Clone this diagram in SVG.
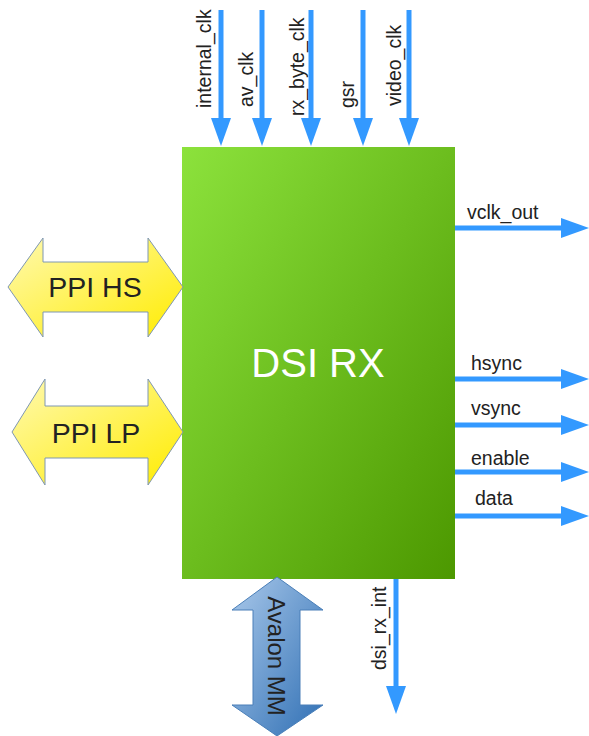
<svg xmlns="http://www.w3.org/2000/svg" width="589" height="736" viewBox="0 0 589 736">
<defs>
<linearGradient id="gGreen" x1="0" y1="0" x2="1" y2="1">
<stop offset="0" stop-color="#8ce23c"/>
<stop offset="1" stop-color="#4c9800"/>
</linearGradient>
<linearGradient id="gYellow" x1="0" y1="0" x2="1" y2="1">
<stop offset="0" stop-color="#fff9b0"/>
<stop offset="1" stop-color="#ffec00"/>
</linearGradient>
<linearGradient id="gBlue" x1="0" y1="0" x2="1" y2="1">
<stop offset="0" stop-color="#a9c8ea"/>
<stop offset="1" stop-color="#2f6fb4"/>
</linearGradient>
<marker id="ah" markerUnits="userSpaceOnUse" markerWidth="30" markerHeight="22" refX="0" refY="10" orient="auto" viewBox="0 0 30 20">
<path d="M0,0 L28,10 L0,20 Z" fill="#3399ff"/>
</marker>
</defs>
<style>
.sig{stroke:#3399ff;stroke-width:5;fill:none;marker-end:url(#ah)}
.lbl{font-family:"Liberation Sans",Arial,sans-serif;font-size:19.5px;fill:#222}
.big{font-family:"Liberation Sans",Arial,sans-serif;font-size:28.5px;fill:#222;text-anchor:middle}
</style>

<g id="connectors">
<line class="sig" x1="221" y1="10" x2="221" y2="118"/>
<line class="sig" x1="262" y1="10" x2="262" y2="118"/>
<line class="sig" x1="311" y1="10" x2="311" y2="118"/>
<line class="sig" x1="363" y1="10" x2="363" y2="118"/>
<line class="sig" x1="409" y1="10" x2="409" y2="118"/>
<line class="sig" x1="455" y1="228" x2="561" y2="228"/>
<line class="sig" x1="455" y1="379" x2="561" y2="379"/>
<line class="sig" x1="455" y1="425" x2="561" y2="425"/>
<line class="sig" x1="455" y1="472" x2="561" y2="472"/>
<line class="sig" x1="455" y1="516" x2="561" y2="516"/>
<line class="sig" x1="396" y1="579" x2="396" y2="686"/>
</g>

<g id="labels">
<text class="lbl" transform="translate(211,108) rotate(-90)">internal_clk</text>
<text class="lbl" transform="translate(253,107) rotate(-90)">av_clk</text>
<text class="lbl" transform="translate(304,116) rotate(-90)">rx_byte_clk</text>
<text class="lbl" transform="translate(354,108) rotate(-90)">gsr</text>
<text class="lbl" transform="translate(401,106) rotate(-90)">video_clk</text>
<text class="lbl" x="467" y="219">vclk_out</text>
<text class="lbl" x="471" y="370">hsync</text>
<text class="lbl" x="471" y="415">vsync</text>
<text class="lbl" x="471" y="465">enable</text>
<text class="lbl" x="475" y="505">data</text>
<text class="lbl" transform="translate(386,670) rotate(-90)">dsi_rx_int</text>
</g>

<g id="dsi_rx">
<rect x="182" y="147" width="273" height="432" fill="url(#gGreen)"/>
<text x="318" y="377" font-family="Liberation Sans,Arial,sans-serif" font-size="40" fill="#ffffff" text-anchor="middle">DSI RX</text>
</g>

<g id="ppi_hs">
<path d="M8,287 L43,238 L43,262 L148,262 L148,238 L183,287 L148,337 L148,312 L43,312 L43,337 Z" fill="url(#gYellow)" stroke="#7f97b3" stroke-width="1"/>
<text class="big" x="95" y="297">PPI HS</text>
</g>

<g id="ppi_lp">
<path d="M12,432 L45,379 L45,406 L148,406 L148,379 L183,432 L148,485 L148,458 L45,458 L45,485 Z" fill="url(#gYellow)" stroke="#7f97b3" stroke-width="1"/>
<text class="big" x="96" y="443">PPI LP</text>
</g>

<g id="avalon_mm">
<path d="M277,577 L323,610 L300,610 L300,705 L323,705 L277,736 L232,705 L253,705 L253,610 L232,610 Z" fill="url(#gBlue)" stroke="#4a7fb8" stroke-width="1"/>
<text transform="translate(268,656) rotate(90)" font-family="Liberation Sans,Arial,sans-serif" font-size="24" fill="#222" text-anchor="middle">Avalon MM</text>
</g>
</svg>
